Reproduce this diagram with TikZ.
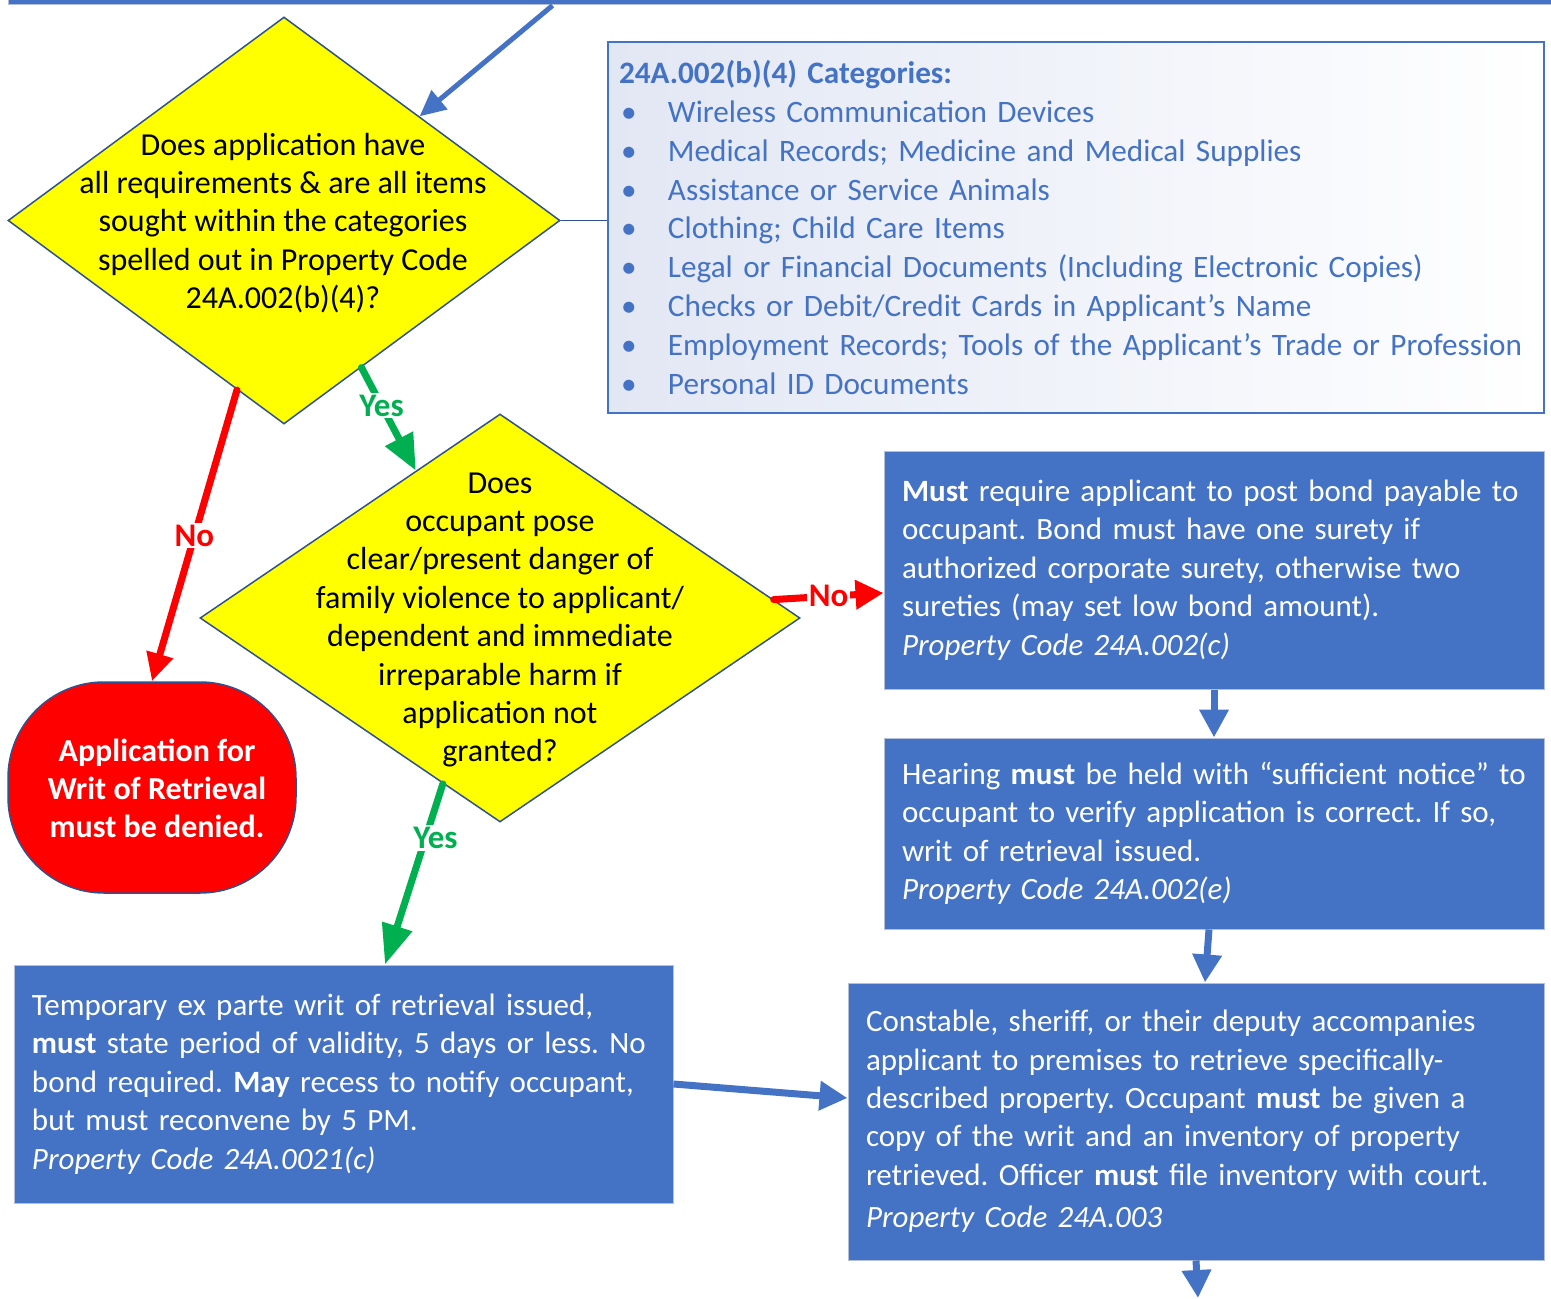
\documentclass[tikz,border=0pt]{standalone}
\usepackage{fontspec}
\setmainfont{Carlito}
\usepackage{xcolor}
\usepackage{tikz}
\usetikzlibrary{arrows.meta,shapes.geometric,calc}

\definecolor{boxblue}{HTML}{4472C4}
\definecolor{edgeblue}{HTML}{2F528F}
\definecolor{boxline}{HTML}{B4C0DA}
\definecolor{catshade}{HTML}{E2E7F4}
\definecolor{diayellow}{HTML}{FFFF00}
\definecolor{yesgreen}{HTML}{00B050}
\definecolor{nored}{HTML}{FF0000}

\frenchspacing
\newcommand{\catitem}[1]{\makebox[24.5pt][l]{\hspace{1pt}\textbullet}#1}

\tikzset{
  txt/.style={font=\fontsize{16}{19.2}\selectfont},
  decision/.style={diamond,draw=edgeblue,line width=0.75pt,fill=diayellow,inner sep=0pt},
  stepbox/.style={rectangle,draw=boxline,line width=0.5pt,fill=boxblue,text=white,
    align=left,inner xsep=9pt,inner ysep=0pt,font=\fontsize{15.5}{19.2}\selectfont},
  catbox/.style={rectangle,draw=boxblue,line width=1pt,left color=catshade,right color=white,
    text=boxblue,align=left,inner xsep=5.5pt,inner ysep=0pt,font=\fontsize{15.6}{19.45}\selectfont},
  deny/.style={rectangle,rounded corners=48pt,draw=edgeblue,line width=0.75pt,fill=nored,inner sep=0pt},
  denytext/.style={text=white,align=center,font=\bfseries\fontsize{16}{19}\selectfont},
  yeslbl/.style={fill=white,text=yesgreen,inner sep=1pt,font=\bfseries\fontsize{16.5}{18}\selectfont},
  nolbl/.style={fill=white,text=nored,inner sep=1pt,font=\bfseries\fontsize{16.5}{18}\selectfont}
}

\begin{document}
\begin{tikzpicture}[x=0.5pt,y=-0.5pt]
\useasboundingbox (0,0) rectangle (1551,1299);

    \node[stepbox,minimum width=776pt,minimum height=65pt] (prev) at (784,-60) {};

    \node[decision,minimum width=276pt,minimum height=203.5pt] (d1) at (284,220.5) {};
    \node[txt,align=center] (d1txt) at (283,223) {Does application have\\all requirements \& are all items\\sought within the categories\\spelled out in Property Code\\24A.002(b)(4)?};

    \node[catbox,text width=457pt,minimum height=185.5pt] (cats) at (1076,227.5) {\textbf{24A.002(b)(4) Categories:}\\
      \catitem{Wireless Communication Devices}\\
      \catitem{Medical Records; Medicine and Medical Supplies}\\
      \catitem{Assistance or Service Animals}\\
      \catitem{Clothing; Child Care Items}\\
      \catitem{Legal or Financial Documents (Including Electronic Copies)}\\
      \catitem{Checks or Debit/Credit Cards in Applicant’s Name}\\
      \catitem{Employment Records; Tools of the Applicant’s Trade or Profession}\\
      \catitem{Personal ID Documents}};

    \node[decision,minimum width=300pt,minimum height=204pt] (d2) at (500,618) {};
    \node[txt,align=center] (d2txt) at (500,620) {Does\\occupant pose\\clear/present danger of\\family violence to applicant/\\dependent and immediate\\irreparable harm if\\application not\\granted?};

    \node[deny,minimum width=144pt,minimum height=105.5pt] (deny) at (152,787.5) {};
    \node[denytext] (denytxt) at (157,788.5) {Application for\\Writ of Retrieval\\must be denied.};

    \node[stepbox,text width=312pt,minimum height=119pt] (bond) at (1214,570) {\textbf{Must} require applicant to post bond payable to\\occupant. Bond must have one surety if\\authorized corporate surety, otherwise two\\sureties (may set low bond amount).\\\textit{Property Code 24A.002(c)}};

    \node[stepbox,text width=312pt,minimum height=95.5pt] (hearing) at (1214,833.5) {Hearing \textbf{must} be held with “sufficient notice” to\\occupant to verify application is correct. If so,\\writ of retrieval issued.\\\textit{Property Code 24A.002(e)}};

    \node[stepbox,text width=330pt,minimum height=138.5pt] (officer) at (1196,1121.5) {Constable, sheriff, or their deputy accompanies\\applicant to premises to retrieve specifically-\\described property. Occupant \textbf{must} be given a\\copy of the writ and an inventory of property\\retrieved. Officer \textbf{must} file inventory with court.\\[2pt]\textit{Property Code 24A.003}};

    \node[stepbox,text width=311.5pt,minimum height=119pt] (exparte) at (343.5,1084) {Temporary ex parte writ of retrieval issued,\\\textbf{must} state period of validity, 5 days or less. No\\bond required. \textbf{May} recess to notify occupant,\\but must reconvene by 5 PM.\\\textit{Property Code 24A.0021(c)}};

    \coordinate (nextstep) at (1198,1298);

    \draw[edgeblue,line width=0.75pt] (d1.east) -- (d1.east -| cats.west);

\begin{scope}[>={Triangle[length=14pt,width=14pt]},line width=3.5pt,boxblue]
    \draw[->,line width=2.5pt,>={Triangle[length=13pt,width=12pt]}] ([xshift=272.5pt]prev.south west) -- ($(d1.north)!0.49!(d1.east)$);
    \draw[->] (bond) -- (hearing);
    \draw[->] ([xshift=-2.5pt]hearing.south) -- ([xshift=4.5pt]officer.north);
    \draw[->] (officer.south) -- (nextstep);
    \draw[->] (exparte.east) -- ([yshift=11.75pt]officer.west);
\end{scope}

\begin{scope}[line width=3.5pt,line cap=round]
    \draw[nored,-{Triangle[length=14pt,width=13pt]}] ($(d1.south)!0.17!(d1.west)$) -- node[nolbl]{No} (deny.north);
    \draw[nored,-{Triangle[length=14pt,width=14pt]}] ($(d2.east)!0.09!(d2.north)$) -- node[nolbl]{No} ([yshift=-11.5pt]bond.west);
    \draw[yesgreen,-{Triangle[length=18pt,width=15pt]}] ($(d1.south)!0.28!(d1.east)$) -- node[yeslbl,pos=0.37]{Yes} ($(d2.north)!0.28!(d2.west)$);
    \draw[yesgreen,-{Triangle[length=20pt,width=15pt]}] ($(d2.south)!0.19!(d2.west)$) -- node[yeslbl,pos=0.3,xshift=5pt]{Yes} ([xshift=20.75pt]exparte.north);
\end{scope}

\end{tikzpicture}
\end{document}
